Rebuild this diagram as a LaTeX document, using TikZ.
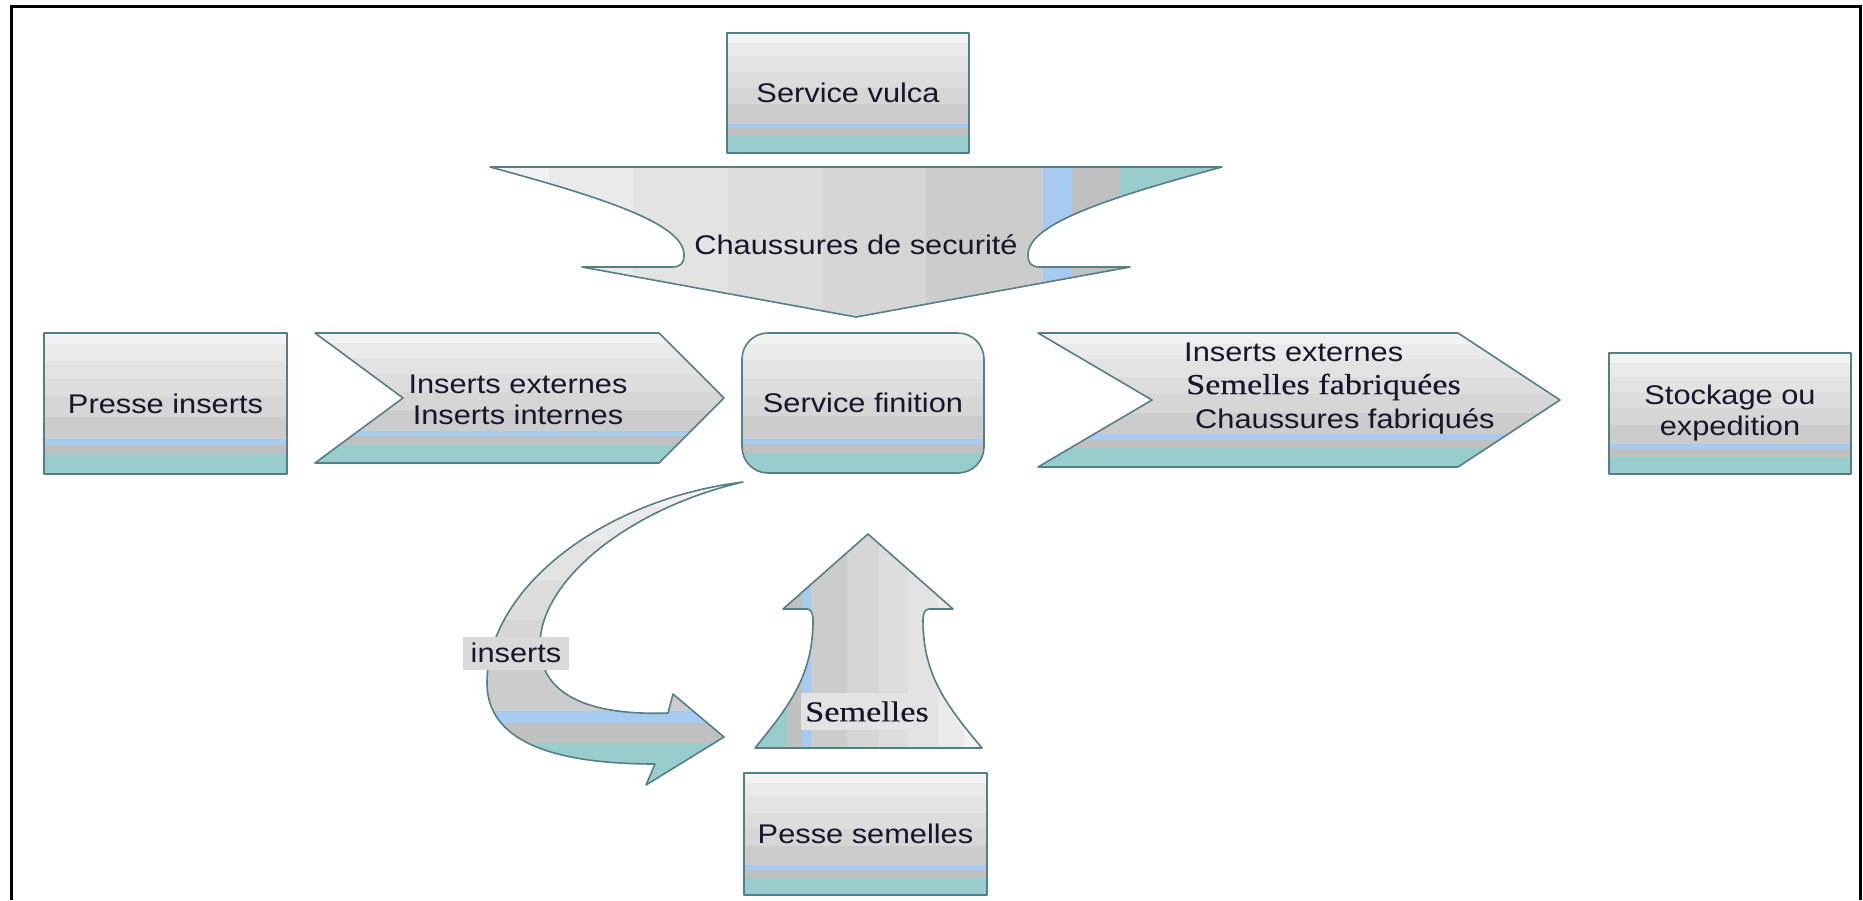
\documentclass[tikz,border=0pt]{standalone}
\usepackage{fontspec}
\setmainfont{Liberation Sans}[FakeStretch=1.14]
\newfontfamily\serifface{Liberation Serif}[FakeStretch=1.18,FakeBold=0.3]
\usetikzlibrary{calc}
\definecolor{gA}{HTML}{F2F2F2}
\definecolor{gB}{HTML}{EAEAEA}
\definecolor{gC}{HTML}{E3E3E3}
\definecolor{gD}{HTML}{DDDDDD}
\definecolor{gE}{HTML}{D6D6D6}
\definecolor{gF}{HTML}{CCCCCC}
\definecolor{bl}{HTML}{A6CAF0}
\definecolor{gr}{HTML}{C0C0C0}
\definecolor{te}{HTML}{99CCCC}
\definecolor{edge}{HTML}{557F86}
\definecolor{ink}{HTML}{16162A}
\definecolor{lblA}{HTML}{D9D9D9}
\definecolor{lblB}{HTML}{E3E3E3}
\newcommand\bandlist{0/0.085/gA,0.08/0.20/gB,0.195/0.33/gC,0.325/0.46/gD,0.455/0.60/gE,0.595/0.76/gF,0.755/0.80/bl,0.795/0.865/gr,0.86/1/te}
\newcommand\sansz{\fontsize{27}{30}\selectfont}
\newcommand\serz{\fontsize{29}{34}\selectfont\serifface}
\tikzset{
  hband/.style={path picture={
    \foreach \a/\b/\c in \bandlist {
      \fill[\c, sharp corners] ($(path picture bounding box.north west)!\a!(path picture bounding box.south west)$)
        rectangle ($(path picture bounding box.north east)!\b!(path picture bounding box.south east)$);
    }}},
  lrband/.style={path picture={
    \foreach \a/\b/\c in \bandlist {
      \fill[\c, sharp corners] ($(path picture bounding box.north west)!\a!(path picture bounding box.north east)$)
        rectangle ($(path picture bounding box.south west)!\b!(path picture bounding box.south east)$);
    }}},
  rlband/.style={path picture={
    \foreach \a/\b/\c in \bandlist {
      \fill[\c, sharp corners] ($(path picture bounding box.north east)!\a!(path picture bounding box.north west)$)
        rectangle ($(path picture bounding box.south east)!\b!(path picture bounding box.south west)$);
    }}},
  shapeline/.style={draw=edge, line width=1.6pt, line join=round},
  box/.style={shapeline, hband, rectangle, inner sep=0pt, text=ink, font=\sansz, align=center},
  txt/.style={inner sep=0pt, text=ink, font=\sansz, align=center},
  sertxt/.style={inner sep=0pt, text=ink, font=\serz},
  lbl/.style={inner sep=0pt, text=ink}
}
\begin{document}
\begin{tikzpicture}[x=1pt,y=-1pt]
\useasboundingbox (0,0) rectangle (1863,900);
% frame
\draw[line width=3pt] (11.5,900) -- (11.5,6.5) -- (1860.5,6.5) -- (1860.5,900);

% boxes
\node[box, minimum width=242pt, minimum height=120pt] (vulca) at (848,93) {Service vulca};
\node[box, minimum width=243pt, minimum height=141pt] (presse) at (165.5,403.5) {Presse inserts};
\node[box, minimum width=242pt, minimum height=140pt, rounded corners=26pt] (finition) at (863,403) {Service finition};
\node[box, minimum width=242pt, minimum height=121pt, align=center] (stock) at (1730,413.5) {Stockage ou\\[1pt]expedition};
\node[box, minimum width=243pt, minimum height=122pt] (pesse) at (865.5,834) {Pesse semelles};

% down chevron (Chaussures de securite)
\path[shapeline, lrband] (490,167) -- (1222,167)
  .. controls (1100,200) and (1028,225) .. (1028,255)
  .. controls (1028,263) and (1031,267) .. (1040,267)
  -- (1130,267) -- (856,317) -- (582,267) -- (672,267)
  .. controls (681,267) and (684,263) .. (684,255)
  .. controls (684,225) and (612,200) .. (490,167) -- cycle;
\node[txt] (chs) at (856,245) {Chaussures de securité};

% chevron 1
\path[shapeline, hband] (315,333) -- (659,333) -- (724,398) -- (659,463) -- (315,463) -- (403,398) -- cycle;
\node[txt] (ins) at (518,400) {Inserts externes\\[1pt]Inserts internes};

% chevron 2
\path[shapeline, hband] (1038,333) -- (1458,333) -- (1560,400) -- (1458,467) -- (1038,467) -- (1152,400) -- cycle;
\node[txt, anchor=west] (c2a) at (1184,352) {Inserts externes};
\node[sertxt, anchor=west] (c2b) at (1186,387) {Semelles fabriquées};
\node[txt, anchor=west] (c2c) at (1195,421) {Chaussures fabriqués};

% curved arrow (inserts)
\path[shapeline, hband] (743,482)
  .. controls (600,500) and (487,590) .. (487,683)
  .. controls (487,740) and (550,764) .. (655,764)
  -- (646,785) -- (724,737) -- (673,694) -- (668,713)
  .. controls (580,716) and (540,690) .. (540,645)
  .. controls (540,580) and (630,508) .. (743,482) -- cycle;
\node[lbl, fill=lblA, minimum width=106pt, minimum height=33pt, font=\sansz] (insl) at (516,653) {inserts};

% up arrow (Semelles)
\path[shapeline, rlband] (868,534) -- (953,609) -- (929,609)
  .. controls (925,609) and (923,613) .. (923,620)
  .. controls (923,675) and (946,705) .. (982,748)
  -- (755,748)
  .. controls (790,705) and (813,675) .. (813,620)
  .. controls (813,613) and (811,609) .. (807,609)
  -- (783,609) -- cycle;
\node[lbl, fill=lblB, minimum width=133pt, minimum height=37pt, font=\serz] (seml) at (867,711.5) {Semelles};
\end{tikzpicture}
\end{document}
